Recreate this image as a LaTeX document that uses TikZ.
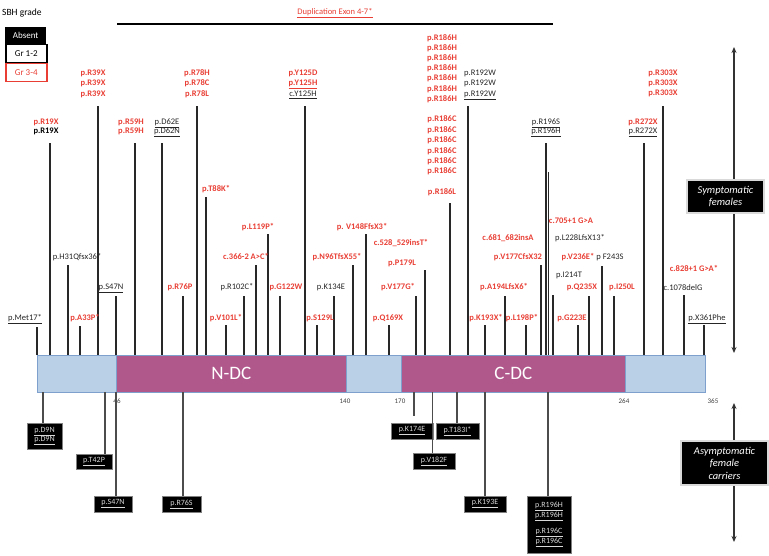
\documentclass[tikz,border=0pt]{standalone}
\usepackage{fontspec}
\setmainfont{Carlito}
\usetikzlibrary{arrows.meta}
\definecolor{redl}{RGB}{232,62,52}
\definecolor{lblue}{RGB}{186,208,230}
\definecolor{bblue}{RGB}{125,160,205}
\definecolor{mag}{RGB}{176,88,140}
\definecolor{stemc}{RGB}{40,40,40}
\begin{document}
\begin{tikzpicture}[x=1pt,y=-1pt,
  lab/.style={anchor=base,inner sep=0pt,font=\fontsize{8.5}{10}\selectfont},
  rb/.style={text=redl,font=\fontsize{8.5}{10}\selectfont\bfseries},
  bk/.style={text=black!85},
  bb/.style={text=black,font=\fontsize{8.5}{10}\selectfont\bfseries},
  stem/.style={draw=stemc,line width=1.1pt},
  lowstem/.style={draw=black!70,line width=1.1pt},
  bbox/.style={fill=black,text=white!85!black,inner sep=0pt,align=center,font=\fontsize{8}{9.5}\selectfont,draw=black!50,line width=0.4pt},
  num/.style={font=\fontsize{7}{8}\selectfont,text=black!75,inner sep=0pt},
  dom/.style={anchor=north west,inner sep=0pt,minimum height=37pt,draw=bblue,line width=0.7pt,text=white,font=\fontsize{19}{20}\selectfont},
  sidebox/.style={fill=black,text=white,align=center,inner sep=0pt,font=\fontsize{10.5}{12.5}\selectfont\itshape,draw=black!15,line width=1.5pt},
  sidearr/.style={draw=black!80,line width=1.4pt,{Stealth[length=6pt,width=5pt]}-{Stealth[length=6pt,width=5pt]}},
  leg/.style={anchor=north west,inner sep=0pt,minimum width=41pt,font=\fontsize{9}{10}\selectfont},
]
\useasboundingbox (0,0) rectangle (769,556);

% legend
\node[anchor=west,inner sep=0pt,font=\fontsize{9.5}{11}\selectfont] (sbh) at (2,13) {SBH grade};
\node[leg,minimum height=17pt,fill=black,text=white] (absent) at (5,27) {Absent};
\node[leg,minimum height=18pt,draw=black,line width=1.5pt] (gr12) at (5,44) {Gr 1-2};
\node[leg,minimum height=18pt,draw=redl,line width=1.5pt,text=redl] (gr34) at (5,63) {Gr 3-4};

% duplication
\coordinate (dupA) at (117,24);
\coordinate (dupB) at (553,24);
\draw[line width=2.2pt] (dupA) -- (dupB);
\node[inner sep=0pt,text=redl,font=\fontsize{8.5}{10}\selectfont] (dup) at (335,13) {\underline{Duplication Exon 4-7*}};

% upper stems
\foreach \x/\t [count=\i] in {37/327,50/143,68/265,80/326,98/106,116/296,135/143,162/143,183/296,197/106,206/197,226/325,244/296,256/265,268/234,280/296,305/106,317/325,334/296,353/265,366/234,389/325,416/296,425/270,450/203,468/106,485/325,505/296,526/325,541/265,546/143,548.5/172,553/295,578/325,589/296,602/266,614/296,644/143,663/106,684/295,704/325}{
  \coordinate (sb\i) at (\x,355);
  \coordinate (st\i) at (\x,\t);
  \draw[stem] (sb\i) -- (st\i);
}

% protein bar
\node[dom,fill=lblue,minimum width=79pt] (d1) at (37,355) {};
\node[dom,fill=mag,minimum width=230pt] (ndc) at (116,355) {N-DC};
\node[dom,fill=lblue,minimum width=55pt] (d3) at (346,355) {};
\node[dom,fill=mag,minimum width=224pt] (cdc) at (401,355) {C-DC};
\node[dom,fill=lblue,minimum width=80pt] (d5) at (625,355) {};

\node[num] (n46) at (117,401) {46};
\node[num] (n140) at (345,401) {140};
\node[num] (n170) at (400,401) {170};
\node[num] (n264) at (624,401) {264};
\node[num] (n365) at (713,401) {365};

% upper labels
\foreach \x/\y/\t/\s [count=\i] in {
25/318/\underline{p.Met17*}/bk,
46/122/p.R19X/rb, 46/131/p.R19X/bb,
77/257/p.H31Qfsx36*/bk,
85/318/p.A33P*/rb,
93/73/p.R39X/rb, 93/83/p.R39X/rb, 93/94/p.R39X/rb,
111/287/\underline{p.S47N}/bk,
131/122/p.R59H/rb, 131/131/p.R59H/rb,
167/122/\underline{p.D62E}/bk, 167/131/\underline{p.D62N}/bk,
180/287/p.R76P/rb,
197/73/p.R78H/rb, 197/83/p.R78C/rb, 197/94/p.R78L/rb,
216/189/p.T88K*/rb,
226/318/p.V101L*/rb,
237/287/p.R102C*/bk,
246/257/c.366-2 A>C*/rb,
258/227/p.L119P*/rb,
286/287/p.G122W/rb,
303/73/p.Y125D/rb, 303/83/\underline{p.Y125H}/rb, 303/94/\underline{c.Y125H}/bk,
320/318/p.S129L/rb,
331/287/p.K134E/bk,
337/257/p.N96TfsX55*/rb,
362/227/p. V148FfsX3*/rb,
401/243/c.528\_529insT*/rb,
402/263/p.P179L/rb,
388/318/p.Q169X/rb,
398/287/p.V177G*/rb,
442/38/p.R186H/rb, 442/48/p.R186H/rb, 442/58/p.R186H/rb, 442/68/p.R186H/rb, 442/78/p.R186H/rb, 442/89/p.R186H/rb, 442/99/p.R186H/rb,
442/119/p.R186C/rb, 442/130/p.R186C/rb, 442/140/p.R186C/rb, 442/151/p.R186C/rb, 442/161/p.R186C/rb, 442/171/p.R186C/rb,
442/192/p.R186L/rb,
480/73/p.R192W/bk, 480/83/p.R192W/bk, 480/94/\underline{p.R192W}/bk,
508/238/c.681\_682insA/rb,
518/257/p.V177CfsX32/rb,
504/287/p.A194LfsX6*/rb,
486/318/p.K193X*/rb,
522/318/p.L198P*/rb,
571/221/c.705+1 G>A/rb,
546/122/\underline{p.R196S}/bk, 546/131/\underline{p.R196H}/bk,
580/238/p.L228LfsX13*/bk,
578/257/p.V236E*/rb,
610/257/p F243S/bk,
569/275/p.I214T/bk,
582/287/p.Q235X/rb,
572/318/p.G223E/rb,
622/287/p.I250L/rb,
643/122/p.R272X/rb, 643/131/\underline{p.R272X}/bk,
663/73/p.R303X/rb, 663/83/p.R303X/rb, 663/93/p.R303X/rb,
694/269/c.828+1 G>A*/rb,
683/288/c.1078delG/bk,
707/318/\underline{p.X361Phe}/bk}{
  \node[lab,\s] (ul\i) at (\x,\y+2.8) {\t};
}

% lower boxes
\node[bbox,minimum width=35pt,minimum height=26pt] (d9n) at (44.5,436) {\underline{p.D9N}\\\underline{p.D9N}};
\node[bbox,minimum width=36pt,minimum height=15pt] (t42p) at (94,461.5) {\underline{p.T42P}};
\node[bbox,minimum width=38pt,minimum height=16pt] (s47n) at (113,504) {\underline{p.S47N}};
\node[bbox,minimum width=39pt,minimum height=16pt] (r76s) at (181.5,504) {\underline{p.R76S}};
\node[bbox,minimum width=42pt,minimum height=16pt] (k174e) at (412,431) {\underline{p.K174E}};
\node[bbox,minimum width=43pt,minimum height=16pt] (t183i) at (457.5,431) {\underline{p.T183I*}};
\node[bbox,minimum width=42pt,minimum height=16pt] (v182f) at (434,461) {\underline{p.V182F}};
\node[bbox,minimum width=42pt,minimum height=16pt] (k193e) at (485,504) {\underline{p.K193E}};
\node[bbox,minimum width=44pt,minimum height=57pt] (r196) at (549,524.5) {\underline{p.R196H}\\\underline{p.R196H}\\[7pt]\underline{p.R196C}\\\underline{p.R196C}};

% lower stems
\draw[lowstem] (43,392) -- (d9n.north -| 43,0);
\draw[lowstem] (105,392) -- (t42p.north -| 105,0);
\draw[lowstem] (116,392) -- (s47n.north -| 116,0);
\draw[lowstem] (183,392) -- (r76s.north -| 183,0);
\draw[lowstem] (414,392) -- (414,416);
\draw[lowstem] (432.5,392) -- (v182f.north -| 432.5,0);
\draw[lowstem] (457,392) -- (t183i.north -| 457,0);
\draw[lowstem] (485,392) -- (k193e.north -| 485,0);
\draw[lowstem] (548,392) -- (r196.north -| 548,0);

% side arrows
\coordinate (sa1) at (734,47);
\coordinate (sa2) at (734,353);
\draw[sidearr] (sa1) -- (sa2);
\node[sidebox,minimum width=77pt,minimum height=33pt] (symp) at (725.5,196.5) {Symptomatic\\females};
\coordinate (aa1) at (734,403);
\coordinate (aa2) at (734,542);
\draw[sidearr] (aa1) -- (aa2);
\node[sidebox,minimum width=87pt,minimum height=44pt] (asymp) at (724.5,463) {Asymptomatic\\female\\carriers};
\end{tikzpicture}
\end{document}
